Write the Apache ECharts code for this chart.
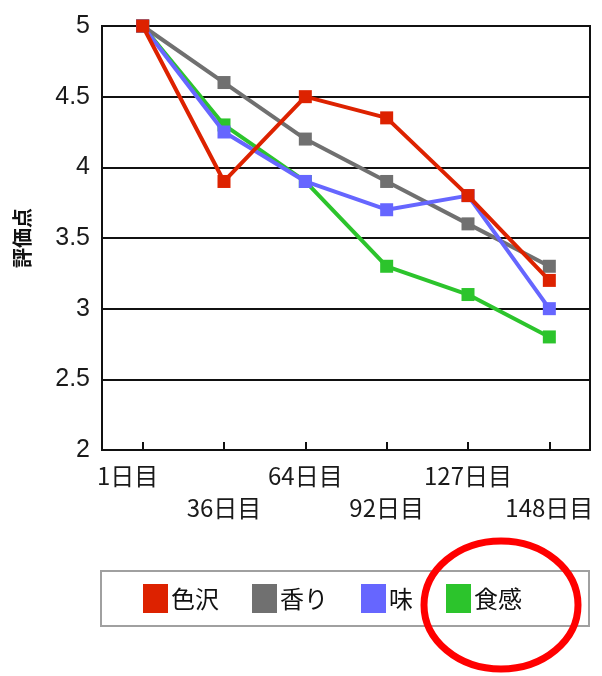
<!DOCTYPE html>
<html>
<head>
<meta charset="utf-8">
<script src="https://cdn.jsdelivr.net/npm/echarts@6/dist/echarts.min.js"></script>
<style>
  html, body { margin: 0; padding: 0; background: #fff; }
  #chart { width: 602px; height: 676px; }
</style>
</head>
<body>
<div id="chart"></div>
<script>
// Sensory scores over storage days
const days = ['1日目', '36日目', '64日目', '92日目', '127日目', '148日目'];
const colorScore = [5, 3.9, 4.5, 4.35, 3.8, 3.2];   // 色沢
const aromaScore = [5, 4.6, 4.2, 3.9, 3.6, 3.3];    // 香り
const tasteScore = [5, 4.25, 3.9, 3.7, 3.8, 3.0];   // 味
const textureScore = [5, 4.3, 3.9, 3.3, 3.1, 2.8];  // 食感
const seriesNames = ['色沢', '香り', '味', '食感'];
const yTicks = { min: 2, max: 5, step: 0.5 };

const FONT = '"Noto Sans CJK JP", "Liberation Sans", sans-serif';
const palette = ['#dd2200', '#707070', '#6666ff', '#2cc42c'];
const zOrder = [5, 3, 4, 2];
const values = [colorScore, aromaScore, tasteScore, textureScore];

const chart = echarts.init(document.getElementById('chart'), null, { renderer: 'canvas' });

chart.setOption({
  animation: false,
  backgroundColor: '#ffffff',
  grid: {
    left: 102, right: 12, top: 26, bottom: 226,
    show: true, borderColor: '#111', borderWidth: 2, backgroundColor: 'transparent'
  },
  legend: {
    data: seriesNames,
    left: 143, top: 584,
    orient: 'horizontal',
    icon: 'rect',
    itemWidth: 25, itemHeight: 29, itemGap: 33,
    padding: 0,
    textStyle: { fontFamily: FONT, fontSize: 24, color: '#111', padding: [0, 0, 0, -2] }
  },
  xAxis: {
    type: 'category',
    data: days,
    boundaryGap: true,
    axisLine: { lineStyle: { color: '#111', width: 2 } },
    axisTick: { show: true, inside: true, alignWithLabel: true, length: 8, lineStyle: { color: '#111', width: 2 } },
    axisLabel: {
      interval: 0,
      margin: 12,
      fontFamily: FONT,
      fontSize: 24,
      color: '#1a1a1a',
      formatter: (v, i) => i === 0 ? '{f|' + v + '}' : (i % 2 === 1 ? '{b|' + v + '}' : '{a|' + v + '}'),
      rich: {
        a: { fontFamily: FONT, fontSize: 24, color: '#1a1a1a', lineHeight: 28 },
        b: { fontFamily: FONT, fontSize: 24, color: '#1a1a1a', lineHeight: 28, padding: [64, 0, 0, 0] },
        f: { fontFamily: FONT, fontSize: 24, color: '#1a1a1a', lineHeight: 28, padding: [0, 30, 0, 0] }
      }
    },
    splitLine: { show: false }
  },
  yAxis: {
    type: 'value',
    min: yTicks.min, max: yTicks.max, interval: yTicks.step,
    name: '評価点',
    nameLocation: 'middle',
    nameGap: 70,
    nameRotate: 90,
    nameTextStyle: { fontFamily: FONT, fontSize: 20, color: '#111', fontWeight: 'bold' },
    axisLine: { show: true, lineStyle: { color: '#111', width: 2 } },
    axisTick: { show: true, inside: true, length: 8, lineStyle: { color: '#111', width: 2 } },
    axisLabel: { margin: 12, fontFamily: '"Liberation Sans", sans-serif', fontSize: 25, color: '#1a1a1a' },
    splitLine: { show: true, lineStyle: { color: '#111', width: 2 } }
  },
  series: seriesNames.map((name, k) => ({
    name: name,
    type: 'line',
    data: values[k],
    z: zOrder[k],
    color: palette[k],
    symbol: 'rect',
    symbolSize: 13,
    lineStyle: { width: 4, color: palette[k] },
    itemStyle: { color: palette[k] },
    emphasis: { disabled: true }
  })),
  graphic: [
    {
      type: 'rect',
      shape: { x: 101, y: 571, width: 488, height: 55 },
      style: { fill: 'none', stroke: '#a0a0a0', lineWidth: 2 },
      z: 0
    },
    {
      type: 'ellipse',
      shape: { cx: 501, cy: 605, rx: 77, ry: 64 },
      style: { fill: 'none', stroke: '#ff0000', lineWidth: 7 },
      z: 100
    }
  ]
});
</script>
</body>
</html>
